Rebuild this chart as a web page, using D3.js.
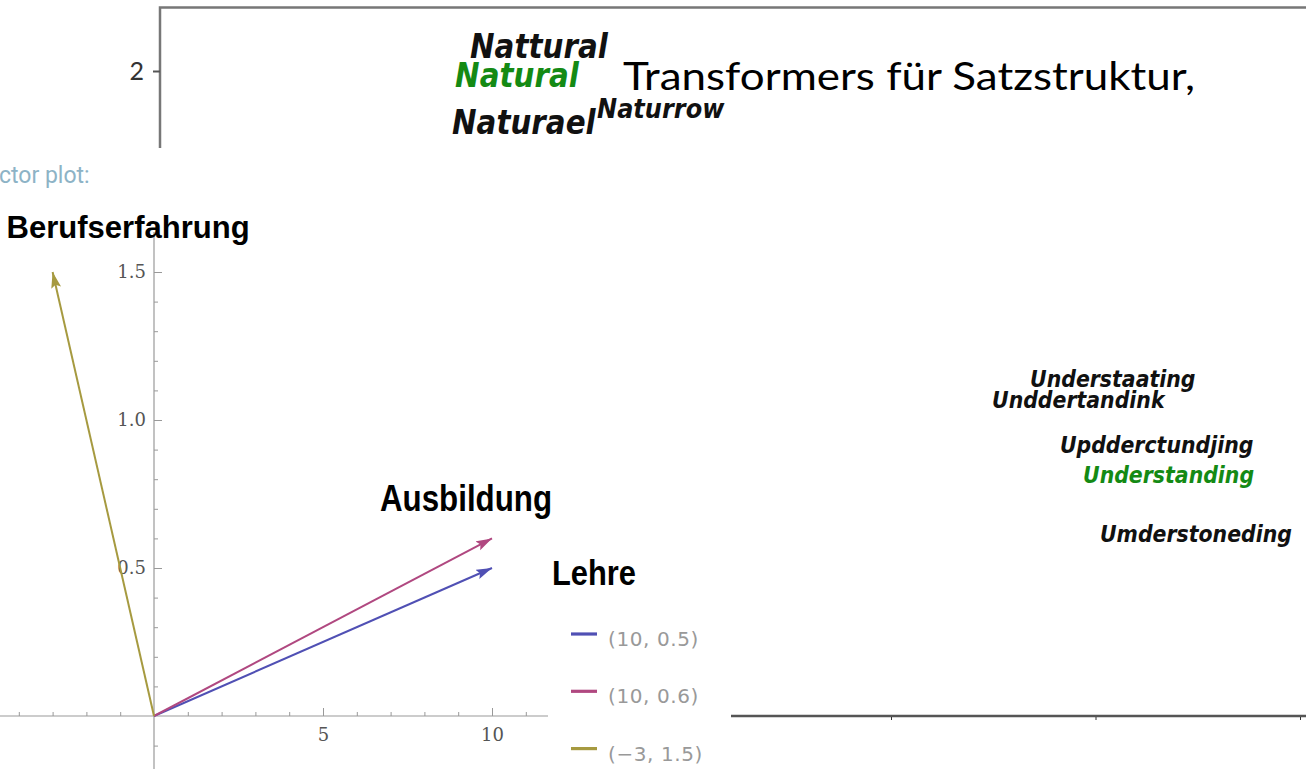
<!DOCTYPE html>
<html>
<head>
<meta charset="utf-8">
<script src="https://cdn.jsdelivr.net/npm/d3@7"></script>
<style>
  body { margin: 0; background: #fff; }
  svg { display: block; }
</style>
</head>
<body>
<svg id="chart" width="1306" height="769"></svg>
<script>
// ---- vector plot data ----
var vecNames = ["Lehre", "Ausbildung", "Berufserfahrung"];
var vecX = [10, 10, -3];
var vecY = [0.5, 0.6, 1.5];
var vecLegend = ["(10, 0.5)", "(10, 0.6)", "(\u22123, 1.5)"];
var xTicks = [5, 10];
var xMinor = [-4, -3, -2, -1, 1, 2, 3, 4, 6, 7, 8, 9, 11];
var yTicks = [0.5, 1.0, 1.5];
var yMinor = [-0.1, 0.1, 0.2, 0.3, 0.4, 0.6, 0.7, 0.8, 0.9, 1.1, 1.2, 1.3, 1.4];

// ---- word embedding snippets ----
var topWords = ["Nattural", "Natural", "Naturael", "Naturrow"];
var topWordX = [1.516, 1.443, 1.428, 2.137];
var topWordY = [2.064, 1.922, 1.692, 1.770];
var topYTicks = [2];
var rightWords = ["Understaating", "Unddertandink", "Updderctundjing", "Understanding", "Umderstoneding"];
var rightWordX = [0.680, 0.494, 0.826, 0.939, 1.022];
var rightWordY = [1.609, 1.506, 1.286, 1.139, 0.851];
var rightXTicks = [0, 1, 2];
var targetWords = ["Natural", "Understanding"];
var slideText = "Transformers f\u00fcr Satzstruktur,";

// ---- styles / layout ----
var vecColors = ["#5050b4", "#b04880", "#a69a40"];
var labelDx = [60, -112, -46];
var labelDy = [17, -27, -34];
var labelSize = [35, 37, 32];
var labelWidth = [84, 172, 243];

var svg = d3.select("#chart");

// squeeze word glyphs horizontally (the source font is narrower)
function squeeze(sel, k) {
    sel.each(function() {
        var w = this.getComputedTextLength();
        d3.select(this).attr("textLength", w * k).attr("lengthAdjust", "spacingAndGlyphs");
    });
}

// ================= top plot (word cloud) =================
var xT = d3.scaleLinear().domain([0, 1]).range([160, 364.5]);
var yT = d3.scaleLinear().domain([2, 3]).range([71, -133.5]);

svg.append("clipPath").attr("id", "topclip")
    .append("rect").attr("x", 0).attr("y", 0).attr("width", 1306).attr("height", 148);

var topG = svg.append("g").attr("clip-path", "url(#topclip)");

topG.append("path")
    .attr("d", "M160,148 L160,7.5 L1306,7.5")
    .attr("fill", "none")
    .attr("stroke", "#777")
    .attr("stroke-width", 2.5);

var topAxis = topG.append("g")
    .attr("transform", "translate(160,0)")
    .call(d3.axisLeft(yT).tickValues(topYTicks).tickSize(7).tickPadding(9).tickFormat(d3.format("d")));
topAxis.select(".domain").remove();
topAxis.attr("color", "#555");
topAxis.selectAll("line").attr("stroke-width", 2);
topAxis.selectAll("text")
    .attr("fill", "#333")
    .style("font-family", "Lato, sans-serif")
    .style("font-size", "25px");

topG.selectAll("text.tw")
    .data(topWords)
    .enter().append("text")
    .attr("class", "tw")
    .attr("x", function(d, i) { return xT(topWordX[i]); })
    .attr("y", function(d, i) { return yT(topWordY[i]); })
    .attr("fill", function(d) { return targetWords.indexOf(d) >= 0 ? "#148a14" : "#111"; })
    .style("font-family", "'DejaVu Sans', sans-serif")
    .style("font-weight", "bold")
    .style("font-style", "italic")
    .style("font-size", function(d, i) { return i == 3 ? "27px" : "33px"; })
    .text(function(d) { return d; })
    .call(squeeze, 0.89);

topG.append("text")
    .attr("x", 623)
    .attr("y", 90)
    .attr("textLength", 572)
    .attr("lengthAdjust", "spacingAndGlyphs")
    .attr("fill", "#000")
    .style("font-family", "Lato, sans-serif")
    .style("font-size", "38px")
    .text(slideText);

// ================= right plot (word cloud) =================
var xR = d3.scaleLinear().domain([0, 2]).range([891, 1300]);
var yR = d3.scaleLinear().domain([0, 1]).range([716, 511.5]);

svg.append("line")
    .attr("x1", 731).attr("x2", 1306)
    .attr("y1", 716).attr("y2", 716)
    .attr("stroke", "#555")
    .attr("stroke-width", 2.5);

var rAxis = svg.append("g")
    .attr("transform", "translate(0,717)")
    .call(d3.axisBottom(xR).tickValues(rightXTicks).tickSize(3).tickFormat(""));
rAxis.select(".domain").remove();
rAxis.attr("color", "#333");

svg.selectAll("text.rw")
    .data(rightWords)
    .enter().append("text")
    .attr("class", "rw")
    .attr("x", function(d, i) { return xR(rightWordX[i]); })
    .attr("y", function(d, i) { return yR(rightWordY[i]); })
    .attr("fill", function(d) { return targetWords.indexOf(d) >= 0 ? "#148a14" : "#111"; })
    .style("font-family", "'DejaVu Sans', sans-serif")
    .style("font-weight", "bold")
    .style("font-style", "italic")
    .style("font-size", "23px")
    .text(function(d) { return d; })
    .call(squeeze, 0.89);

// ================= vector plot =================
var xV = d3.scaleLinear().domain([0, 10]).range([154, 492]);
var yV = d3.scaleLinear().domain([0, 1.5]).range([716, 272]);

svg.append("text")
    .attr("x", -1)
    .attr("y", 183)
    .attr("fill", "#8db3c6")
    .style("font-family", "Roboto, sans-serif")
    .style("font-size", "23px")
    .text("ctor plot:");

// axis lines
svg.append("line")
    .attr("x1", 0).attr("x2", 548)
    .attr("y1", yV(0)).attr("y2", yV(0))
    .attr("stroke", "#999").attr("stroke-width", 1.2);
svg.append("line")
    .attr("x1", xV(0)).attr("x2", xV(0))
    .attr("y1", 232).attr("y2", 769)
    .attr("stroke", "#999").attr("stroke-width", 1.2);

function styleAxis(g) {
    g.select(".domain").remove();
    g.attr("color", "#999");
    g.selectAll("text")
        .attr("fill", "#555")
        .style("font-family", "'DejaVu Serif', serif")
        .style("font-size", "18px");
}

svg.append("g")
    .attr("transform", "translate(0," + yV(0) + ")")
    .call(d3.axisBottom(xV).tickValues(xMinor).tickSizeInner(-4).tickSizeOuter(0).tickFormat(""))
    .call(styleAxis);
svg.append("g")
    .attr("transform", "translate(0," + yV(0) + ")")
    .call(d3.axisBottom(xV).tickValues(xTicks).tickSizeInner(-8).tickSizeOuter(0).tickPadding(12))
    .call(styleAxis);
svg.append("g")
    .attr("transform", "translate(" + xV(0) + ",0)")
    .call(d3.axisLeft(yV).tickValues(yMinor).tickSizeInner(-4).tickSizeOuter(0).tickFormat(""))
    .call(styleAxis);
svg.append("g")
    .attr("transform", "translate(" + xV(0) + ",0)")
    .call(d3.axisLeft(yV).tickValues(yTicks).tickSizeInner(-8).tickSizeOuter(0).tickPadding(8)
        .tickFormat(d3.format(".1f")))
    .call(styleAxis);

// arrow markers
var defs = svg.append("defs");
vecColors.forEach(function(c, i) {
    defs.append("marker")
        .attr("id", "arrow" + i)
        .attr("markerUnits", "userSpaceOnUse")
        .attr("markerWidth", 17)
        .attr("markerHeight", 11)
        .attr("refX", 16)
        .attr("refY", 5)
        .attr("orient", "auto")
        .append("path")
        .attr("d", "M0,0 L16,5 L0,10 L3,5 Z")
        .attr("fill", c);
});

svg.selectAll("line.vec")
    .data(vecX)
    .enter().append("line")
    .attr("class", "vec")
    .attr("x1", xV(0))
    .attr("y1", yV(0))
    .attr("x2", function(d) { return xV(d); })
    .attr("y2", function(d, i) { return yV(vecY[i]); })
    .attr("stroke", function(d, i) { return vecColors[i]; })
    .attr("stroke-width", 2)
    .attr("marker-end", function(d, i) { return "url(#arrow" + i + ")"; });

// vector labels
svg.selectAll("text.vlabel")
    .data(vecNames)
    .enter().append("text")
    .attr("class", "vlabel")
    .attr("x", function(d, i) { return xV(vecX[i]) + labelDx[i]; })
    .attr("y", function(d, i) { return yV(vecY[i]) + labelDy[i]; })
    .attr("textLength", function(d, i) { return labelWidth[i]; })
    .attr("lengthAdjust", "spacingAndGlyphs")
    .attr("fill", "#000")
    .style("font-family", "'Liberation Sans', Arial, sans-serif")
    .style("font-weight", "bold")
    .style("font-size", function(d, i) { return labelSize[i] + "px"; })
    .text(function(d) { return d; });

// legend
var legend = svg.append("g").attr("transform", "translate(571,634)");
var rows = legend.selectAll("g")
    .data(vecLegend)
    .enter().append("g")
    .attr("transform", function(d, i) { return "translate(0," + (i * 57.3) + ")"; });
rows.append("line")
    .attr("x1", 0).attr("x2", 26)
    .attr("stroke", function(d, i) { return vecColors[i]; })
    .attr("stroke-width", 3.2);
rows.append("text")
    .attr("x", 37)
    .attr("y", 12)
    .attr("fill", "#999")
    .style("font-family", "'DejaVu Sans', sans-serif")
    .style("font-size", "20px")
    .style("letter-spacing", "0.6px")
    .text(function(d) { return d; });
</script>
</body>
</html>
